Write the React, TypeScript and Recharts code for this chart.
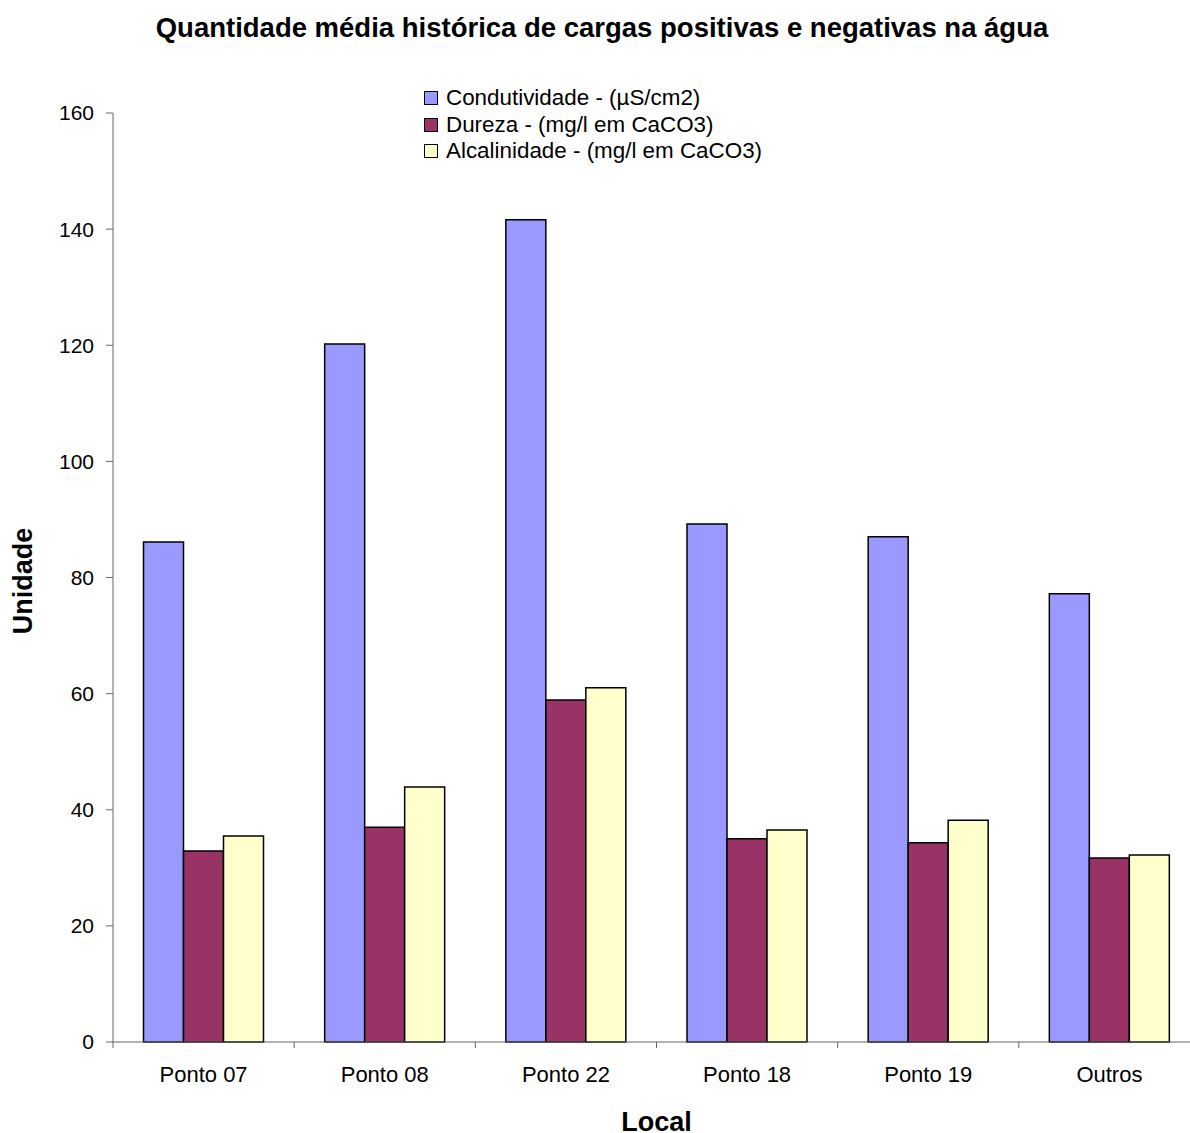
import React from "react";
import { BarChart, Bar, XAxis, YAxis, Legend } from "recharts";

const categories = ["Ponto 07", "Ponto 08", "Ponto 22", "Ponto 18", "Ponto 19", "Outros"];
const condutividade = [86.1, 120.2, 141.6, 89.2, 87.0, 77.2];
const dureza = [32.9, 37.0, 58.9, 35.0, 34.3, 31.7];
const alcalinidade = [35.5, 43.9, 61.0, 36.5, 38.2, 32.2];
const yTicks = [0, 20, 40, 60, 80, 100, 120, 140, 160];

const series = [
  { key: "condutividade", name: "Condutividade - (µS/cm2)", color: "#9999FF" },
  { key: "dureza", name: "Dureza - (mg/l em CaCO3)", color: "#993366" },
  { key: "alcalinidade", name: "Alcalinidade - (mg/l em CaCO3)", color: "#FFFFCC" },
];

const data = categories.map((local, i) => ({
  local,
  condutividade: condutividade[i],
  dureza: dureza[i],
  alcalinidade: alcalinidade[i],
}));

const FONT = '"Liberation Sans", Arial, sans-serif';
const AXIS = "#666";
const W = 1200;
const H = 1133;
const Y_AXIS_W = 113;
const BAND = (W - Y_AXIS_W) / categories.length;

// category label centred, tick mark on the left boundary (and the right one for the last)
function LocalTick(props: any) {
  const { x, y, payload, index } = props;
  const left = x - BAND / 2;
  return (
    <g>
      <line x1={left} x2={left} y1={y} y2={y + 6} stroke={AXIS} />
      {index === categories.length - 1 && (
        <line x1={x + BAND / 2} x2={x + BAND / 2} y1={y} y2={y + 6} stroke={AXIS} />
      )}
      <text x={x} y={y + 40} textAnchor="middle" fontSize={22} fontFamily={FONT} fill="#000">
        {payload.value}
      </text>
    </g>
  );
}

function LegendBox() {
  return (
    <div style={{ fontFamily: FONT, fontSize: 22.4, lineHeight: "26.5px", color: "#000" }}>
      {series.map((s) => (
        <div key={s.key} style={{ display: "flex", alignItems: "center" }}>
          <span
            style={{
              width: 12,
              height: 12,
              border: "1px solid #000",
              background: s.color,
              marginRight: 8,
              display: "inline-block",
            }}
          />
          <span>{s.name}</span>
        </div>
      ))}
    </div>
  );
}

export default function App() {
  return (
    <div
      style={{
        position: "absolute",
        top: 0,
        left: 0,
        width: 1190,
        height: H,
        overflow: "hidden",
        background: "#fff",
      }}
    >
      <div
        style={{
          position: "absolute",
          top: 14,
          left: 0,
          width: 1204,
          textAlign: "center",
          fontFamily: FONT,
          fontWeight: "bold",
          fontSize: 27.5,
          lineHeight: "27px",
          color: "#000",
        }}
      >
        Quantidade média histórica de cargas positivas e negativas na água
      </div>
      <BarChart
        width={W}
        height={H}
        data={data}
        margin={{ top: 113, right: 0, bottom: 0, left: 0 }}
        barCategoryGap={30.5}
        barGap={0}
      >
        <XAxis
          dataKey="local"
          height={91}
          interval={0}
          tickLine={false}
          tickSize={0}
          tickMargin={0}
          axisLine={{ stroke: AXIS }}
          tick={<LocalTick />}
          label={{
            content: () => (
              <text
                x={Y_AXIS_W + (W - Y_AXIS_W) / 2}
                y={1131}
                textAnchor="middle"
                fontSize={27}
                fontWeight="bold"
                fontFamily={FONT}
                fill="#000"
              >
                Local
              </text>
            ),
          }}
        />
        <YAxis
          width={Y_AXIS_W}
          domain={[0, 160]}
          ticks={yTicks}
          interval={0}
          tickSize={7}
          tickMargin={12}
          axisLine={{ stroke: AXIS }}
          tickLine={{ stroke: AXIS }}
          tick={{ fontSize: 21, fontFamily: FONT, fill: "#000" }}
          label={{
            content: () => (
              <text
                x={32}
                y={581}
                transform="rotate(-90 32 581)"
                textAnchor="middle"
                fontSize={27}
                fontWeight="bold"
                fontFamily={FONT}
                fill="#000"
              >
                Unidade
              </text>
            ),
          }}
        />
        {/* middle/center alignment keeps the legend out of the plot offset */}
        <Legend
          layout="horizontal"
          verticalAlign="middle"
          align="center"
          content={<LegendBox />}
          wrapperStyle={{ position: "absolute", top: 85, left: 424, width: "auto" }}
        />
        {series.map((s) => (
          <Bar
            key={s.key}
            dataKey={s.key}
            name={s.name}
            fill={s.color}
            stroke="#000"
            strokeWidth={1.5}
            isAnimationActive={false}
          />
        ))}
      </BarChart>
    </div>
  );
}
